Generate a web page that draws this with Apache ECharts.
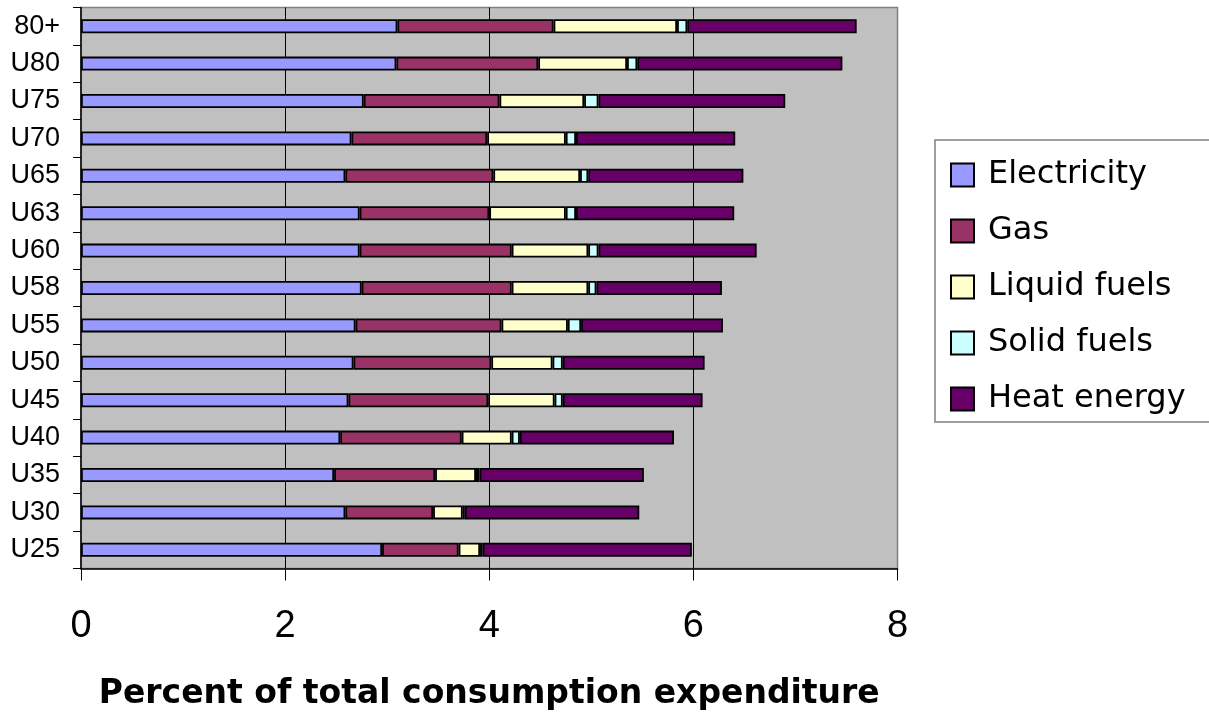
<!DOCTYPE html>
<html>
<head>
<meta charset="utf-8">
<script src="https://cdn.jsdelivr.net/npm/echarts@6/dist/echarts.min.js"></script>
<style>
  html, body { margin: 0; padding: 0; background: #ffffff; }
  #chart { width: 1209px; height: 716px; }
</style>
</head>
<body>
<div id="chart"></div>
<script>
// Household energy spending by age group, top row first
const categories = ['80+', 'U80', 'U75', 'U70', 'U65', 'U63', 'U60', 'U58', 'U55', 'U50', 'U45', 'U40', 'U35', 'U30', 'U25'];
const electricity = [3.10, 3.09, 2.77, 2.65, 2.59, 2.73, 2.73, 2.75, 2.69, 2.67, 2.62, 2.54, 2.48, 2.59, 2.95];
const gas         = [1.53, 1.39, 1.33, 1.33, 1.45, 1.27, 1.49, 1.47, 1.43, 1.35, 1.37, 1.19, 0.99, 0.86, 0.75];
const liquidFuels = [1.21, 0.87, 0.83, 0.77, 0.85, 0.75, 0.75, 0.75, 0.65, 0.60, 0.65, 0.49, 0.40, 0.29, 0.21];
const solidFuels  = [0.10, 0.10, 0.14, 0.10, 0.08, 0.10, 0.10, 0.08, 0.13, 0.10, 0.08, 0.08, 0.035, 0.02, 0.025];
const heatEnergy  = [1.66, 2.01, 1.83, 1.56, 1.52, 1.55, 1.55, 1.23, 1.39, 1.39, 1.37, 1.51, 1.61, 1.71, 2.05];
const xTicks = [0, 2, 4, 6, 8];

const seriesDefs = [
  { name: 'Electricity',   data: electricity, color: '#9999ff' },
  { name: 'Gas',           data: gas,         color: '#993366' },
  { name: 'Liquid fuels',  data: liquidFuels, color: '#ffffcc' },
  { name: 'Solid fuels',   data: solidFuels,  color: '#ccffff' },
  { name: 'Heat energy',   data: heatEnergy,  color: '#660066' }
];

const FONT = '"Liberation Sans", Arial, sans-serif';
const WIDE_FONT = '"DejaVu Sans", "Liberation Sans", sans-serif';
const chart = echarts.init(document.getElementById('chart'), null, { renderer: 'canvas' });

chart.setOption({
  animation: false,
  backgroundColor: '#ffffff',
  textStyle: { fontFamily: FONT, color: '#000' },
  grid: {
    left: 81, right: 311.5, top: 7.5, bottom: 147.5,
    show: true, backgroundColor: '#c0c0c0', borderColor: '#808080', borderWidth: 1.5
  },
  legend: {
    orient: 'vertical',
    left: 935, top: 140,
    backgroundColor: '#ffffff',
    borderColor: '#808080', borderWidth: 1.5,
    padding: [19, 30, 7, 15],
    itemWidth: 23, itemHeight: 23, itemGap: 24,
    icon: 'rect',
    textStyle: { fontSize: 32, color: '#000', fontFamily: WIDE_FONT, padding: [0, 0, 0, 9] },
    data: seriesDefs.map(s => s.name)
  },
  xAxis: {
    type: 'value',
    min: xTicks[0], max: xTicks[xTicks.length - 1], interval: 2,
    axisLine: { show: true, lineStyle: { color: '#000', width: 1.5 } },
    axisTick: { show: true, inside: false, length: 12, lineStyle: { color: '#000', width: 1 } },
    axisLabel: { fontSize: 38, color: '#000', margin: 39, fontFamily: FONT },
    splitLine: { show: true, showMinLine: false, showMaxLine: false, lineStyle: { color: '#000', width: 1 } },
    name: 'Percent of total consumption expenditure',
    nameLocation: 'middle',
    nameGap: 109,
    nameTextStyle: { fontSize: 33, fontWeight: 'bold', color: '#000', fontFamily: WIDE_FONT }
  },
  yAxis: {
    type: 'category',
    data: categories,
    inverse: true,
    axisLine: { show: true, lineStyle: { color: '#000', width: 1.5 } },
    axisTick: { show: true, inside: false, length: 8, lineStyle: { color: '#000', width: 1 } },
    axisLabel: { fontSize: 27, color: '#000', margin: 21, fontFamily: FONT },
    splitLine: { show: false }
  },
  series: seriesDefs.map(s => ({
    name: s.name,
    type: 'bar',
    stack: 'total',
    data: s.data,
    barWidth: 14,
    itemStyle: { color: s.color, borderColor: '#000', borderWidth: 1.8 }
  }))
});
</script>
</body>
</html>
